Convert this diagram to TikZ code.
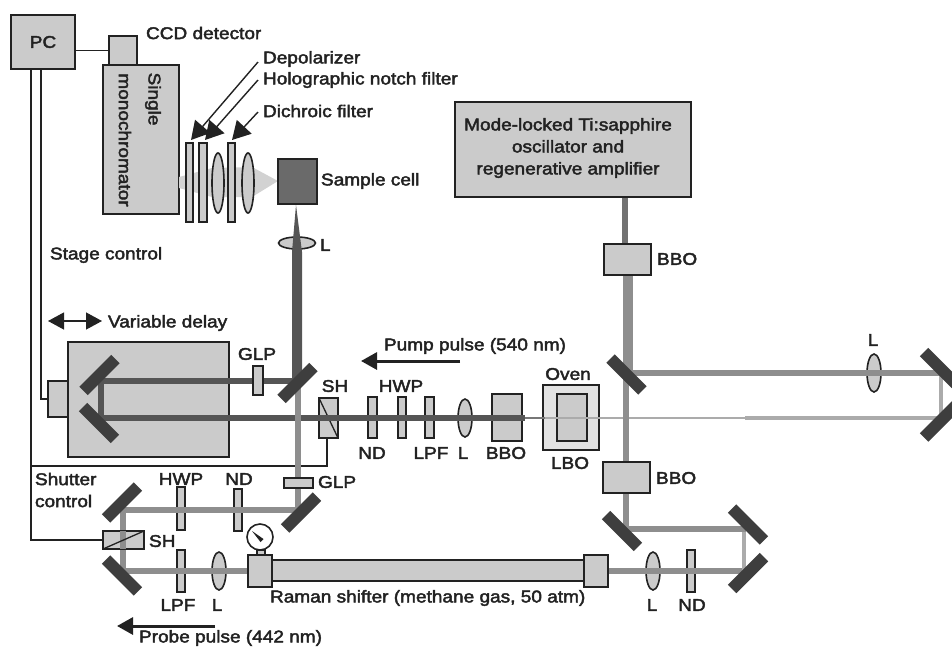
\documentclass[tikz,border=0pt]{standalone}
\usepackage{fontspec}
\setmainfont{Liberation Sans}[FakeStretch=1.12,FakeBold=2.5]
\usetikzlibrary{arrows.meta,shapes.geometric}
\definecolor{ink}{HTML}{222222}
\definecolor{boxgray}{HTML}{CBCBCB}
\definecolor{palegray}{HTML}{E2E2E2}
\definecolor{mirrorgray}{HTML}{3E3E3E}
\definecolor{darkbeam}{HTML}{555555}
\definecolor{midbeam}{HTML}{8E8E8E}
\definecolor{lightbeam}{HTML}{ABABAB}
\definecolor{conegray}{HTML}{D2D2D2}
\definecolor{samplegray}{HTML}{6A6A6A}
\tikzset{
  every node/.style={inner sep=0pt,outer sep=0pt,text=ink,font=\fontsize{17}{22}\selectfont},
  optbox/.style={draw=ink,line width=1.8pt,fill=boxgray,anchor=north west},
  platebox/.style={optbox,line width=1.4pt},
  lens/.style={ellipse,draw=ink,line width=1.6pt,fill=boxgray,minimum width=14pt,minimum height=38pt},
  mirror/.style={fill=mirrorgray,minimum width=45pt,minimum height=12pt},
  dbeam/.style={draw=darkbeam,line width=5.5pt},
  pbeam/.style={draw=midbeam,line width=5.5pt},
  wire/.style={draw=ink,line width=1.3pt},
  callout/.style={draw=ink,line width=1.4pt,-{Triangle[length=18pt,width=20pt]}},
  pulse/.style={draw=ink,line width=3pt,-{Triangle[length=16pt,width=17pt]}},
  lab/.style={anchor=west},
}
\newcommand{\obox}[6][optbox]{\node[#1,minimum width={(#5-#3)*1pt},minimum height={(#6-#4)*1pt}] (#2) at (#3,#4) {};}
\begin{document}
\begin{tikzpicture}[x=1pt,y=-1pt]
\useasboundingbox (0,0) rectangle (952,646);
\clip (0,0) rectangle (952,646);
% coordinates of beam ends
\coordinate (bA) at (100,381);
\coordinate (bB) at (297,381);
\coordinate (bC) at (101,378.5);
\coordinate (bD) at (101,420.5);
\coordinate (bE) at (100,418);
\coordinate (bF) at (525,418);
\coordinate (bG) at (545,418);
\coordinate (bH) at (700,418);
\coordinate (bI) at (745,418);
\coordinate (bJ) at (941,418);
\coordinate (bK) at (298,383);
\coordinate (bL) at (298,512);
\coordinate (bM) at (298,510);
\coordinate (bN) at (123,510);
\coordinate (bO) at (123,508);
\coordinate (bP) at (123,573);
\coordinate (bQ) at (123,571);
\coordinate (bR) at (248,571);
\coordinate (bS) at (608,571);
\coordinate (bT) at (746,571);
\coordinate (bU) at (744,573);
\coordinate (bV) at (744,527);
\coordinate (bW) at (746,529);
\coordinate (bX) at (626,529);
\coordinate (bY) at (626,531);
\coordinate (bZ) at (626,373);
\coordinate (cA) at (625,197);
\coordinate (cB) at (625,244);
\coordinate (cC) at (628,275);
\coordinate (cD) at (628,373);
\coordinate (cE) at (626,373);
\coordinate (cF) at (940,373);
\coordinate (cG) at (941,371);
\coordinate (cH) at (941,420);
% delay stage and boxes
\obox{pc}{11}{15}{75}{69}
\node at (pc.center) {PC};
\obox{mono}{103}{65}{179}{214}
\obox{ccd}{109}{36}{137}{65}
\node[rotate=-90] (tsingle) at (153,99) {Single};
\node[rotate=-90] (tmono) at (125,140) {monochromator};
\obox{stage}{68}{342}{229}{457}
\obox{block}{48}{381}{68}{417}
% wires
\draw[wire] (pc.east |- ccd.west) -- (ccd.west);
\coordinate (wa) at (31,69);
\coordinate (wb) at (41,69);
\draw[wire] (wa) -- (31,540) -- (103,540);
\draw[wire] (wb) -- (41,399) -- (block.west);
\draw[wire] (31,466) -- (327,466) -- (327,438);
% collection optics
\fill[conegray] (278,181) -- (252,167) -- (212,168) -- (179,177) -- (179,188) -- (212,197) -- (252,197) -- cycle;
\obox[platebox]{p1}{186}{143}{193}{222}
\obox[platebox]{p2}{199}{143}{207}{222}
\node[lens,minimum width=12pt,minimum height=60pt] (l1) at (218,183) {};
\obox[platebox]{p3}{228}{143}{235}{222}
\node[lens,minimum width=12pt,minimum height=60pt] (l2) at (248,183) {};
\obox[optbox,fill=samplegray]{cell}{278}{159}{317}{204}
% lens under sample
\node[lens,minimum width=37pt,minimum height=12pt] (lup) at (297,243) {};
\fill[darkbeam] (296,205) -- (292,252) -- (292,383) -- (302,383) -- (302,252) -- cycle;
% pump line parts
\obox[platebox,fill=palegray]{oven}{543}{385}{599}{450}
\obox{lbo}{557}{394}{587}{441}
\obox{bbop}{492}{394}{522}{441}
\obox[platebox]{ndp}{368}{397}{377}{438}
\obox[platebox]{hwpp}{398}{397}{406}{438}
\obox[platebox]{lpfp}{425}{397}{434}{438}
\node[lens] (lp) at (465,418) {};
\obox[platebox]{shp}{319}{398}{338}{438}
\draw[wire] (shp.north west) -- (shp.south east);
% probe parts
\obox[platebox]{hwpb}{177}{487}{185}{530}
\obox[platebox]{ndb}{234}{489}{242}{531}
\obox[platebox]{lpfb}{177}{550}{185}{592}
\node[lens] (lb) at (219,571) {};
\obox[platebox]{ndr}{687}{550}{695}{592}
\node[lens] (lr) at (653,571) {};
\node[lens] (lt) at (874,373) {};
% beams
\draw[dbeam] (bA) -- (bB);
\draw[dbeam] (bC) -- (bD);
\draw[dbeam] (bE) -- (bF);
\draw[draw=darkbeam!80!white,line width=2.5pt] (bF) -- (bG);
\draw[draw=lightbeam,line width=1.2pt] (bG) -- (bH);
\draw[draw=lightbeam,line width=2.5pt] (bH) -- (bI);
\draw[draw=lightbeam,line width=4pt] (bI) -- (bJ);
\draw[pbeam] (bK) -- (bL);
\draw[pbeam] (bM) -- (bN);
\draw[pbeam] (bO) -- (bP);
\draw[pbeam] (bQ) -- (bR);
\draw[pbeam] (bS) -- (bT);
\draw[draw=lightbeam,line width=4pt] (bU) -- (bV);
\draw[pbeam] (bW) -- (bX);
\draw[pbeam] (bY) -- (bZ);
\draw[draw=midbeam!80!black,line width=5.5pt] (cA) -- (cB);
\draw[draw=midbeam,line width=10pt] (cC) -- (cD);
\draw[pbeam] (cE) -- (cF);
\draw[draw=lightbeam,line width=4pt] (cG) -- (cH);
% pieces over the beams
\obox[platebox]{glpa}{253}{366}{263}{395}
\obox[platebox]{glpb}{284}{478}{313}{488}
\obox[platebox]{shb}{103}{531}{144}{549}
\draw[pbeam] (123,531) -- (123,549);
\draw[wire] (shb.south west) -- (shb.north east);
% crystals on the beams
\obox{bbot}{604}{244}{651}{275}
\obox{bboo}{603}{462}{650}{493}
\obox{ram}{272}{560}{584}{581}
\obox{ramL}{248}{555}{272}{587}
\obox{ramR}{584}{555}{608}{587}
\obox[platebox]{stem}{257}{550}{265}{555}
\node[circle,draw=ink,line width=1.6pt,fill=white,minimum size=26pt] (gauge) at (260,537) {};
\fill[ink] (252,531) -- (263.5,539) -- (260.5,542) -- cycle;
% laser box
\obox{laser}{455}{102}{691}{197}
\node[align=center] (tlaser) at (568,148) {Mode-locked Ti:sapphire\\oscillator and\\regenerative amplifier};
% mirrors
\node[mirror,rotate=45] (m1) at (297.5,383) {};
\node[mirror,rotate=45] (m2) at (99.5,375) {};
\node[mirror,rotate=-45] (m3) at (99,423) {};
\node[mirror,rotate=45] (m4) at (301,512.5) {};
\node[mirror,rotate=45] (m5) at (122,502.5) {};
\node[mirror,rotate=-45] (m6) at (122,575.5) {};
\node[mirror,rotate=-45] (m7) at (626.5,374.5) {};
\node[mirror,rotate=-45] (m8) at (940,368) {};
\node[mirror,rotate=45] (m9) at (940,421.5) {};
\node[mirror,rotate=-45] (m10) at (622,531) {};
\node[mirror,rotate=-45] (m11) at (748,524.5) {};
\node[mirror,rotate=45] (m12) at (748,573) {};
% labels
\node[lab] (tccd) at (146,33) {CCD detector};
\node[lab] (tdep) at (263,59) {Depolarizer};
\node[lab] (tholo) at (263,80) {Holographic notch filter};
\node[lab] (tdic) at (263,111) {Dichroic filter};
\node[lab] (tcell) at (321,181) {Sample cell};
\node[lab] (tlup) at (320,245) {L};
\node[lab] (tstage) at (50,255) {Stage control};
\node[lab] (tvar) at (108,323) {Variable delay};
\node (tglpa) at (257,354) {GLP};
\node[lab] (tglpb) at (318,482) {GLP};
\node (tshp) at (335,386) {SH};
\node (tndp) at (372,453) {ND};
\node (thwpp) at (401,386) {HWP};
\node (tlpfp) at (431,453) {LPF};
\node (tlp) at (463,453) {L};
\node (tbbop) at (506,453) {BBO};
\node (toven) at (568,374) {Oven};
\node (tlbo) at (570,463) {LBO};
\node[lab] (tpump) at (384,346) {Pump pulse (540 nm)};
\node[lab] (tbbot) at (657,259) {BBO};
\node[lab] (tbboo) at (656,478) {BBO};
\node (tlt) at (873,340) {L};
\node[lab] (tsc) at (35,479) {Shutter};
\node[lab] (tsc2) at (35,501) {control};
\node (thwpb) at (181,479) {HWP};
\node (tndb) at (239,479) {ND};
\node[lab] (tshb) at (149,541) {SH};
\node (tlpfb) at (178,605) {LPF};
\node (tlb) at (217,605) {L};
\node[lab] (tram) at (270,598) {Raman shifter (methane gas, 50 atm)};
\node (tlr) at (652,605) {L};
\node (tndr) at (692,605) {ND};
\node[lab] (tprobe) at (139,638) {Probe pulse (442 nm)};
% arrows
\coordinate (aa) at (258,62);
\coordinate (ab) at (191,140);
\coordinate (ac) at (258,80);
\coordinate (ad) at (205,140);
\coordinate (ae) at (258,112);
\coordinate (af) at (232,140);
\draw[callout] (aa) -- (ab);
\draw[callout] (ac) -- (ad);
\draw[callout] (ae) -- (af);
\coordinate (pa) at (460,361);
\coordinate (pb) at (361,361);
\coordinate (qa) at (215,626);
\coordinate (qb) at (117,626);
\draw[pulse] (pa) -- (pb);
\draw[pulse] (qa) -- (qb);
\coordinate (va) at (48,321);
\coordinate (vb) at (102,321);
\draw[draw=ink,line width=1.3pt,{Triangle[length=16pt,width=17pt]}-{Triangle[length=16pt,width=17pt]}] (va) -- (vb);
\end{tikzpicture}
\end{document}
